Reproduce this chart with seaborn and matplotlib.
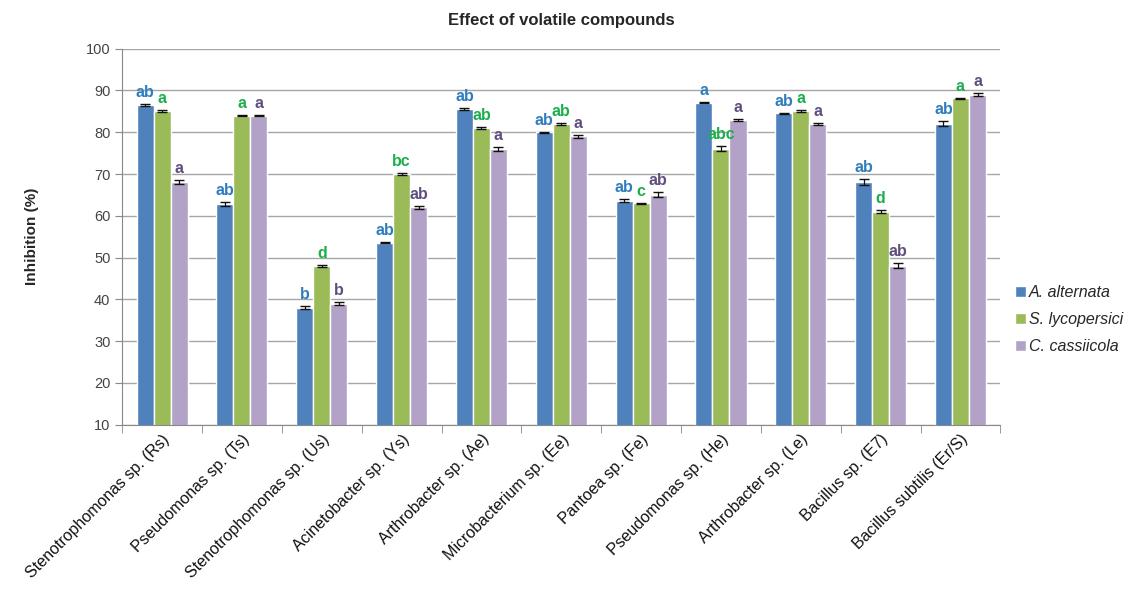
import numpy as np
import pandas as pd
import matplotlib
matplotlib.use('Agg')
import matplotlib.pyplot as plt
import seaborn as sns

strains = ['Stenotrophomonas sp. (Rs)', 'Pseudomonas sp. (Ts)', 'Stenotrophomonas sp. (Us)',
           'Acinetobacter sp. (Ys)', 'Arthrobacter sp. (Ae)', 'Microbacterium sp. (Ee)',
           'Pantoea sp. (Fe)', 'Pseudomonas sp. (He)', 'Arthrobacter sp. (Le)',
           'Bacillus sp. (E7)', 'Bacillus subtilis (Er/S)']
pathogens = ['A. alternata', 'S. lycopersici', 'C. cassiicola']

alternata = [86.5, 62.8, 38.0, 53.6, 85.5, 80.0, 63.6, 87.1, 84.5, 68.0, 82.0]
lycopersici = [85.1, 84.0, 48.0, 70.0, 81.1, 82.0, 63.0, 76.0, 85.1, 61.0, 88.1]
cassiicola = [68.0, 84.0, 39.0, 62.0, 76.0, 79.0, 65.0, 83.0, 82.0, 48.0, 89.0]

err_alt = [0.3, 0.4, 0.3, 0.2, 0.2, 0.1, 0.4, 0.1, 0.1, 0.7, 0.6]
err_lyc = [0.2, 0.1, 0.3, 0.3, 0.2, 0.2, 0.1, 0.6, 0.2, 0.3, 0.1]
err_cas = [0.5, 0.1, 0.4, 0.3, 0.5, 0.3, 0.6, 0.2, 0.2, 0.6, 0.4]

let_alt = ['ab', 'ab', 'b', 'ab', 'ab', 'ab', 'ab', 'a', 'ab', 'ab', 'ab']
let_lyc = ['a', 'a', 'd', 'bc', 'ab', 'ab', 'c', 'abc', 'a', 'd', 'a']
let_cas = ['a', 'a', 'b', 'ab', 'a', 'a', 'ab', 'a', 'a', 'ab', 'a']

bar_colors = ['#4F81BD', '#9BBB59', '#B3A2C7']
letter_colors = ['#2E7DBE', '#1DAE4E', '#5F4F7F']

df = pd.DataFrame({
    'strain': strains * 3,
    'pathogen': np.repeat(pathogens, len(strains)),
    'value': alternata + lycopersici + cassiicola,
})
errs = [err_alt, err_lyc, err_cas]
letters = [let_alt, let_lyc, let_cas]
vals = [alternata, lycopersici, cassiicola]

sns.set_style('white')
plt.rcParams['font.family'] = ['Liberation Sans', 'DejaVu Sans']

fig, ax = plt.subplots(figsize=(11.42, 5.94), dpi=100)
fig.subplots_adjust(left=0.107, right=0.876, top=0.918, bottom=0.285)

sns.barplot(data=df, x='strain', y='value', hue='pathogen', palette=bar_colors,
            width=0.64, errorbar=None, saturation=1, ax=ax, zorder=2)

# error bars + letters from the bar containers
bar_groups = list(ax.containers)
for i, cont in enumerate(bar_groups):
    for j, bar in enumerate(cont.patches):
        xc = bar.get_x() + bar.get_width() / 2
        ax.errorbar(xc, vals[i][j], yerr=errs[i][j], fmt='none', ecolor='#111111',
                    elinewidth=0.9, capsize=3.5, capthick=1.0, zorder=3)
        ax.text(xc, vals[i][j] + errs[i][j] + 1.0, letters[i][j], ha='center', va='bottom',
                fontsize=11.5, color=letter_colors[i], fontweight='bold')

ax.set_ylim(10, 100)
ax.set_xlim(-0.5, len(strains) - 0.5)
ax.set_yticks(range(10, 101, 10))
ax.yaxis.grid(True, color='#A6A6A6', linewidth=1)
ax.set_axisbelow(True)
for s in ['top', 'right']:
    ax.spines[s].set_visible(False)
ax.spines['left'].set_color('#888888')
ax.spines['bottom'].set_color('#888888')
ax.tick_params(axis='y', length=5, color='#888888', labelsize=10.5, labelcolor='#444444', direction='out', left=True)
ax.set_xticks(np.arange(-0.5, len(strains), 1), minor=True)
ax.tick_params(axis='x', which='minor', length=6, color='#888888', bottom=True)
ax.tick_params(axis='x', which='major', length=0, labelsize=11.5, labelcolor='#111111', pad=5)
plt.setp(ax.get_xticklabels(), rotation=45, ha='right', rotation_mode='anchor')

ax.set_xlabel('')
ax.set_ylabel('Inhibition (%)', fontsize=11, fontweight='bold', labelpad=34)
ax.set_title('Effect of volatile compounds', fontsize=12, fontweight='bold', pad=17)

leg = ax.legend(loc='center left', bbox_to_anchor=(1.0, 0.28), frameon=False,
                handlelength=0.7, handleheight=0.7, handletextpad=0.2, labelspacing=0.75,
                prop={'style': 'italic', 'size': 11.5})

fig.savefig('out.png', dpi=100)
